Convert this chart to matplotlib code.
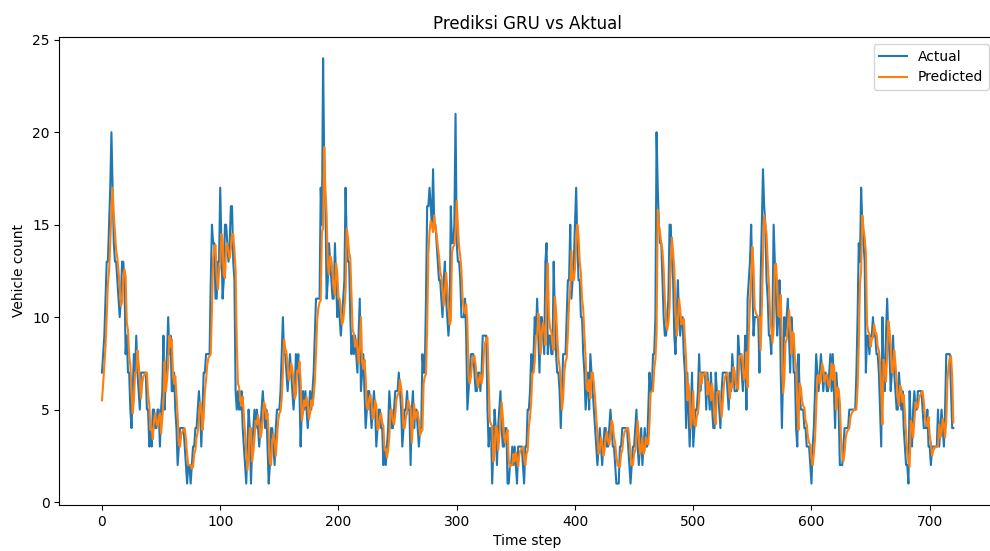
import numpy as np
import matplotlib
matplotlib.use('Agg')
import matplotlib.pyplot as plt

# Actual vehicle counts per time step
actual = [
    7, 8, 9, 11, 13, 13, 15, 17, 20, 17,
    14, 13, 13, 12, 11, 10, 11, 13, 13, 12,
    8, 9, 7, 7, 5, 4, 6, 8, 7, 9,
    7, 6, 5, 7, 7, 7, 7, 7, 5, 5,
    3, 4, 3, 5, 5, 4, 4, 5, 5, 3,
    5, 6, 9, 5, 7, 8, 10, 8, 9, 6,
    6, 7, 5, 4, 2, 3, 4, 4, 4, 4,
    3, 2, 1, 2, 2, 1, 2, 3, 3, 4,
    4, 5, 6, 5, 3, 5, 7, 7, 8, 8,
    8, 8, 12, 15, 14, 14, 11, 11, 13, 13,
    17, 14, 11, 12, 15, 15, 14, 13, 14, 16,
    16, 13, 12, 6, 5, 6, 5, 5, 6, 4,
    3, 2, 1, 3, 5, 4, 1, 3, 4, 5,
    4, 5, 4, 3, 4, 5, 6, 5, 4, 5,
    3, 1, 2, 4, 4, 3, 2, 4, 5, 5,
    5, 6, 8, 10, 8, 8, 7, 6, 7, 8,
    7, 6, 5, 6, 8, 7, 8, 6, 3, 5,
    6, 5, 6, 5, 4, 5, 6, 5, 6, 7,
    9, 11, 11, 11, 11, 17, 15, 24, 18, 16,
    11, 12, 14, 13, 12, 11, 11, 14, 12, 10,
    11, 10, 9, 10, 11, 12, 17, 14, 13, 13,
    10, 8, 9, 8, 9, 8, 7, 9, 11, 6,
    7, 8, 6, 4, 5, 6, 6, 5, 4, 5,
    6, 5, 3, 4, 5, 5, 4, 4, 2, 3,
    2, 3, 4, 6, 5, 4, 4, 5, 6, 6,
    6, 7, 6, 5, 3, 4, 5, 5, 6, 5,
    5, 2, 5, 6, 4, 5, 5, 4, 3, 4,
    4, 8, 7, 7, 11, 16, 16, 17, 16, 15,
    18, 15, 15, 14, 13, 12, 12, 11, 10, 12,
    13, 11, 10, 9, 10, 16, 14, 14, 15, 21,
    14, 13, 13, 12, 10, 10, 10, 11, 9, 5,
    6, 7, 8, 8, 8, 7, 6, 6, 7, 7,
    6, 7, 9, 9, 9, 9, 5, 3, 4, 4,
    1, 3, 5, 4, 2, 4, 5, 6, 4, 3,
    3, 4, 4, 1, 1, 2, 2, 3, 2, 3,
    2, 1, 3, 3, 3, 3, 2, 1, 3, 3,
    5, 5, 6, 8, 7, 8, 10, 9, 11, 9,
    7, 10, 10, 9, 8, 13, 14, 8, 9, 9,
    8, 8, 13, 10, 8, 7, 7, 6, 4, 6,
    8, 8, 8, 10, 12, 12, 15, 11, 12, 13,
    15, 17, 14, 12, 12, 10, 10, 8, 7, 5,
    6, 7, 5, 8, 7, 6, 5, 4, 3, 2,
    3, 4, 3, 2, 3, 4, 4, 3, 3, 4,
    5, 4, 3, 3, 2, 1, 1, 1, 3, 3,
    4, 4, 4, 4, 4, 3, 2, 1, 2, 3,
    3, 4, 5, 3, 2, 3, 4, 2, 3, 4,
    3, 3, 5, 7, 6, 6, 8, 8, 10, 20,
    17, 15, 14, 14, 12, 10, 9, 9, 10, 11,
    15, 15, 13, 12, 9, 8, 10, 12, 10, 9,
    10, 10, 8, 7, 4, 7, 5, 3, 5, 7,
    3, 4, 5, 5, 6, 8, 6, 7, 7, 7,
    7, 5, 7, 6, 5, 7, 5, 4, 4, 7,
    6, 6, 5, 4, 6, 7, 7, 7, 7, 6,
    5, 7, 6, 8, 7, 6, 6, 6, 9, 8,
    8, 7, 6, 7, 9, 5, 11, 12, 13, 15,
    12, 9, 10, 10, 10, 10, 7, 12, 15, 18,
    16, 15, 12, 11, 9, 9, 8, 10, 15, 13,
    11, 9, 10, 12, 7, 4, 7, 10, 9, 10,
    11, 9, 7, 10, 9, 7, 7, 4, 3, 8,
    6, 5, 5, 5, 4, 4, 3, 3, 3, 2,
    1, 3, 4, 6, 8, 7, 6, 7, 8, 7,
    6, 7, 7, 6, 6, 7, 8, 6, 8, 6,
    4, 7, 6, 5, 2, 2, 2, 3, 4, 4,
    4, 4, 5, 5, 5, 5, 5, 5, 7, 10,
    14, 13, 17, 15, 14, 13, 7, 9, 9, 8,
    9, 9, 10, 9, 9, 8, 8, 7, 5, 3,
    10, 7, 6, 9, 11, 9, 8, 6, 7, 9,
    7, 6, 5, 5, 7, 6, 5, 6, 4, 3,
    2, 2, 1, 6, 4, 3, 5, 6, 5, 5,
    6, 6, 6, 6, 5, 4, 4, 4, 5, 3,
    3, 2, 3, 3, 3, 3, 3, 5, 3, 4,
    5, 4, 3, 5, 8, 8, 8, 8, 6, 4,
    4,
]

# GRU predictions per time step
predicted = [
    5.5, 6.4, 7.4, 8.4, 10.0, 11.8, 12.5, 14.0, 15.8, 17.0,
    15.5, 14.6, 13.6, 13.2, 12.5, 11.6, 10.6, 10.8, 12.1, 12.6,
    12.2, 9.7, 9.3, 7.9, 7.4, 6.0, 4.8, 5.5, 7.0, 7.0,
    8.2, 7.5, 6.6, 5.6, 6.4, 6.8, 6.9, 7.0, 7.0, 5.8,
    5.3, 3.9, 4.0, 3.4, 4.4, 4.8, 4.3, 4.1, 4.6, 4.8,
    3.7, 4.5, 5.4, 7.6, 6.0, 6.6, 7.4, 9.0, 8.4, 8.8,
    7.1, 6.4, 6.8, 5.7, 4.7, 3.1, 3.0, 3.6, 3.8, 3.9,
    4.0, 3.4, 2.6, 2.0, 2.0, 2.0, 1.8, 1.9, 2.6, 2.8,
    3.5, 3.8, 4.5, 5.4, 5.2, 3.9, 4.6, 6.0, 6.6, 7.4,
    7.8, 7.9, 8.0, 10.4, 13.2, 13.7, 13.9, 12.2, 11.5, 12.4,
    12.8, 14.5, 14.2, 12.3, 12.1, 13.8, 14.0, 13.5, 13.2, 13.7,
    14.5, 14.5, 13.6, 12.6, 8.6, 6.4, 6.2, 5.5, 5.2, 5.7,
    4.7, 3.7, 2.7, 1.7, 2.5, 4.0, 4.0, 2.2, 2.7, 3.5,
    4.4, 4.2, 4.7, 4.3, 3.5, 3.8, 4.5, 5.4, 5.2, 4.5,
    4.8, 3.7, 2.1, 2.0, 3.2, 3.7, 3.3, 2.5, 3.4, 4.4,
    4.8, 4.9, 5.6, 7.0, 8.8, 8.3, 8.1, 7.4, 6.6, 6.8,
    7.5, 7.2, 6.5, 5.6, 5.8, 7.1, 7.0, 7.6, 6.6, 4.4,
    4.8, 5.5, 5.2, 5.7, 5.3, 4.5, 4.8, 5.5, 5.2, 5.7,
    6.5, 8.0, 9.8, 10.5, 10.8, 10.9, 14.6, 14.8, 19.2, 16.8,
    15.5, 12.8, 12.3, 13.3, 13.1, 12.4, 11.6, 11.2, 12.9, 12.4,
    11.0, 11.0, 10.4, 9.6, 9.8, 10.5, 11.4, 14.8, 14.3, 13.5,
    13.2, 11.3, 9.3, 9.1, 8.4, 8.8, 8.3, 7.5, 8.4, 10.0,
    7.6, 7.2, 7.7, 6.7, 5.1, 5.0, 5.6, 5.8, 5.3, 4.5,
    4.8, 5.5, 5.2, 3.9, 4.0, 4.6, 4.8, 4.3, 4.1, 2.8,
    2.9, 2.4, 2.8, 3.5, 5.0, 5.0, 4.4, 4.2, 4.7, 5.5,
    5.8, 5.9, 6.6, 6.2, 5.5, 4.0, 4.0, 4.6, 4.8, 5.5,
    5.2, 5.1, 3.2, 4.3, 5.3, 4.5, 4.8, 4.9, 4.4, 3.6,
    3.8, 3.9, 6.4, 6.8, 6.9, 9.4, 13.4, 14.6, 15.2, 15.0,
    14.6, 15.5, 14.8, 14.5, 13.8, 13.3, 12.5, 12.2, 11.5, 10.6,
    11.4, 12.4, 11.6, 10.6, 9.6, 9.8, 13.5, 13.8, 13.9, 14.6,
    16.3, 14.9, 13.8, 13.3, 12.5, 11.0, 10.4, 10.2, 10.7, 9.7,
    6.9, 6.4, 6.8, 7.5, 7.8, 7.9, 7.4, 6.6, 6.2, 6.7,
    6.9, 6.4, 6.8, 8.1, 8.6, 8.8, 8.9, 6.6, 4.4, 4.2,
    4.1, 2.2, 2.7, 4.1, 4.0, 2.8, 3.5, 4.4, 5.4, 4.6,
    3.6, 3.2, 3.7, 3.9, 2.2, 1.9, 2.0, 2.0, 2.6, 2.2,
    2.7, 2.3, 1.9, 2.6, 2.8, 2.9, 3.0, 2.4, 2.0, 2.6,
    2.8, 4.1, 4.6, 5.4, 7.0, 7.0, 7.6, 9.0, 9.0, 10.2,
    9.5, 8.0, 9.2, 9.7, 9.3, 8.5, 11.2, 12.9, 10.0, 9.4,
    9.2, 8.5, 8.2, 11.1, 10.4, 9.0, 7.8, 7.3, 6.5, 5.0,
    5.6, 7.0, 7.6, 7.8, 9.1, 10.8, 11.5, 13.6, 12.0, 12.0,
    12.6, 14.0, 15.0, 14.4, 13.0, 12.4, 11.0, 10.4, 9.0, 7.8,
    6.1, 6.0, 6.6, 5.6, 7.0, 7.0, 6.4, 5.6, 4.6, 3.6,
    2.6, 2.8, 3.5, 3.2, 2.5, 2.8, 3.5, 3.8, 3.3, 3.1,
    3.6, 4.4, 4.2, 3.5, 3.2, 2.5, 2.0, 1.9, 1.9, 2.6,
    2.8, 3.5, 3.8, 3.9, 4.0, 4.0, 3.4, 2.6, 2.0, 2.0,
    2.6, 2.8, 3.5, 4.4, 3.6, 2.6, 2.8, 3.5, 2.6, 2.8,
    3.5, 3.2, 3.1, 4.2, 5.9, 6.0, 6.0, 7.2, 7.7, 9.1,
    15.8, 15.0, 14.5, 14.0, 13.6, 12.6, 11.0, 9.8, 9.3, 9.7,
    10.5, 13.2, 14.3, 13.5, 12.6, 10.4, 9.0, 9.6, 11.0, 10.4,
    9.6, 9.8, 9.9, 8.8, 7.7, 5.5, 6.4, 5.6, 4.0, 4.6,
    6.0, 4.2, 4.1, 4.6, 4.8, 5.5, 7.0, 6.4, 6.8, 6.9,
    7.0, 7.0, 5.8, 6.5, 6.2, 5.5, 6.4, 5.6, 4.6, 4.2,
    5.9, 6.0, 6.0, 5.4, 4.6, 5.4, 6.4, 6.8, 6.9, 7.0,
    6.4, 5.6, 6.4, 6.2, 7.3, 7.1, 6.4, 6.2, 6.1, 7.8,
    7.9, 8.0, 7.4, 6.6, 6.8, 8.1, 6.2, 9.1, 10.8, 12.1,
    13.8, 12.7, 10.5, 10.2, 10.1, 10.0, 10.0, 8.2, 10.5, 13.2,
    15.5, 15.0, 14.5, 13.0, 11.8, 10.1, 9.4, 8.6, 9.4, 12.8,
    12.9, 11.8, 10.1, 10.0, 11.2, 8.7, 5.9, 6.6, 8.6, 8.8,
    9.5, 10.4, 9.6, 8.0, 9.2, 9.1, 7.8, 7.3, 5.3, 3.9,
    6.4, 6.2, 5.5, 5.2, 5.1, 4.4, 4.2, 3.5, 3.2, 3.1,
    2.4, 2.0, 2.6, 3.4, 5.0, 6.8, 6.9, 6.4, 6.8, 7.5,
    7.2, 6.5, 6.8, 6.9, 6.4, 6.2, 6.7, 7.5, 6.6, 7.4,
    6.6, 5.0, 6.2, 6.1, 5.4, 3.4, 2.6, 2.2, 2.7, 3.5,
    3.8, 3.9, 4.0, 4.6, 4.8, 4.9, 5.0, 5.0, 5.0, 6.2,
    8.5, 11.8, 12.5, 15.5, 14.8, 14.3, 13.5, 9.6, 9.2, 9.1,
    8.4, 8.8, 8.9, 9.6, 9.2, 9.1, 8.4, 8.2, 7.5, 6.0,
    4.2, 7.7, 7.3, 6.5, 8.0, 9.8, 9.3, 8.5, 7.0, 7.0,
    8.2, 7.5, 6.6, 5.6, 5.2, 6.3, 6.1, 5.4, 5.8, 4.7,
    3.7, 2.7, 2.3, 1.9, 4.4, 4.2, 3.5, 4.4, 5.4, 5.2,
    5.1, 5.6, 5.8, 5.9, 6.0, 5.4, 4.6, 4.2, 4.1, 4.6,
    3.6, 3.2, 2.5, 2.8, 2.9, 3.0, 3.0, 3.0, 4.2, 3.5,
    3.8, 4.5, 4.2, 3.5, 4.4, 6.6, 7.4, 7.8, 7.9, 6.8,
    4.3,
]

n = min(len(actual), len(predicted))
steps = np.arange(n)

fig = plt.figure(figsize=(9.9, 5.51), dpi=100)
# the original screenshot is cut off on the right, so the axes run past the edge
ax = fig.add_axes([0.060, 0.0838, 0.946, 0.849])

ax.plot(steps, actual[:n], label='Actual')
ax.plot(steps, predicted[:n], label='Predicted')

ax.set_title('Prediksi GRU vs Aktual')
ax.set_xlabel('Time step')
ax.set_ylabel('Vehicle count')
ax.legend(loc='upper right')

fig.savefig('out.png', dpi=100)
